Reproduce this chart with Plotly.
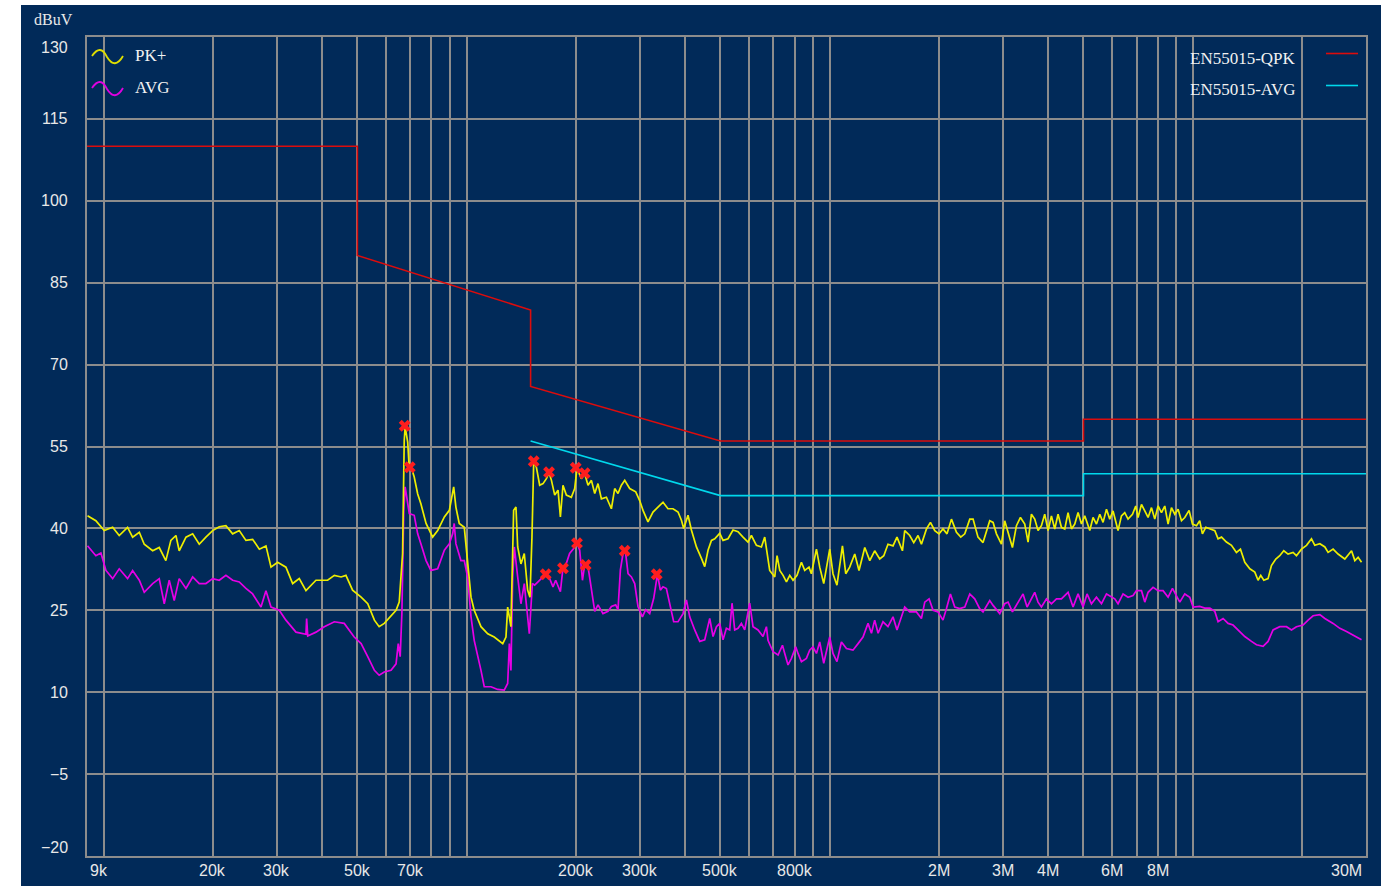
import math
import plotly.graph_objects as go

# ---------------- data (frequency in kHz, level in dBuV) ----------------
pk_freq = [
    9.03, 9.52, 10.04, 10.59, 11.04, 11.64, 12.02, 12.54, 12.94, 13.65, 14.23, 14.84, 15.32, 15.82,
    16.15, 16.86, 17.59, 18.34, 19.13, 19.97, 20.82, 21.72, 22.67, 23.64, 24.66, 25.73, 26.85, 28.00,
    28.91, 30.15, 31.78, 33.17, 34.58, 36.09, 38.45,
    41.4, 43.2, 45.1, 46.5, 48.5, 51.2, 53.4, 55.7, 57.4, 59.3, 61.9, 63.9, 65.2, 65.9, 66.6, 67.3,
    67.7, 68.8, 69.5, 70.6, 71.7, 73.3, 74.8, 77.3, 80.6, 83.2, 86.8, 89.6, 91.1, 92.1, 93.4, 95.4,
    98.5, 100.6, 102.8, 104.9, 109.5, 114.3, 119.1, 125.7, 128.3, 129.7, 132.4, 134.7, 136.7, 138.2,
    141.1, 144.1, 147.2, 149.4, 151.3,
    153.0, 155.6, 158.9, 162.3, 165.8, 168.6, 171.2, 174.8, 178.5, 181.2, 184.2, 188.2, 194.2, 198.4,
    201.3, 207.0, 211.4, 215.9, 220.6, 225.3, 230.0, 235.0, 242.6, 250.4, 255.7, 261.1, 266.8, 272.5,
    281.2, 292.2, 299.6, 306.0, 315.8, 326.0, 336.5, 347.4, 358.5, 370.1, 382.1, 390.4, 396.2, 407.1,
    415.9, 429.4, 443.3, 452.6, 462.2, 472.3, 482.3, 497.7, 508.3, 524.6, 541.6, 559.0, 577.0, 595.5,
    608.5, 628.2, 648.4, 662.2,
    683.4, 705.6, 716.0, 728.5, 743.9, 760.0, 776.0, 792.4, 812.7, 835.7, 853.4, 876.9, 890.2, 919.2,
    938.6, 962.7, 1000, 1021, 1047, 1084, 1107, 1135, 1172, 1204, 1249, 1289, 1330, 1373, 1409, 1447,
    1494, 1532, 1586, 1609, 1661, 1704, 1751, 1789, 1847, 1894, 1947, 2000, 2051, 2104, 2164, 2234,
    2296, 2355, 2431, 2482, 2561, 2644, 2759,
    2818, 2879, 2972, 3034, 3099, 3186, 3268, 3352, 3445, 3518, 3594, 3670, 3748, 3829, 3910, 3994,
    4080, 4167, 4255, 4347, 4440, 4534, 4633, 4731, 4831, 4936, 5040, 5203, 5313, 5429, 5544, 5661,
    5785, 5906, 6031, 6225, 6361, 6496, 6633, 6822, 6966, 7068, 7223, 7376, 7532, 7695, 7858, 8024,
    8200, 8373, 8551, 8736, 8921, 9110, 9309, 9506, 9768,
    9980, 10240, 10450, 10630, 10860, 11140, 11500, 11740, 12000, 12380, 12780, 13190, 13530, 13910,
    14360, 14820, 15130, 15390, 15690, 16120, 16470, 16930, 17360, 17810, 18300, 18890, 19300, 19930,
    20570, 21230, 21680, 22390, 23110, 23590, 24350, 25130, 26230, 27370, 27950, 28540, 29160,
]
pk_level = [
    42.3, 41.4, 39.6, 40.2, 38.7, 40.2, 38.4, 39.3, 37.1, 35.9, 36.5, 34.1, 37.8, 38.7,
    35.9, 38.4, 39.0, 37.1, 38.4, 39.6, 40.3, 40.5, 39.0, 39.6, 37.8, 38.0, 36.2, 36.8,
    32.9, 33.8, 32.9, 29.9, 30.8, 28.6, 30.5,
    30.5, 31.4, 31.1, 31.4, 28.7, 27.4, 26.2, 23.2, 22.0, 22.6, 24.1, 25.0, 26.5, 31.1, 35.4, 56.1,
    58.6, 55.8, 50.9, 50.9, 49.4, 46.3, 44.5, 40.9, 38.4, 39.6, 42.1, 43.3, 46.3, 47.6, 43.9, 40.9,
    40.2, 34.1, 27.4, 25.0, 22.0, 20.7, 20.1, 18.9, 20.1, 25.6, 22.0, 43.3, 43.9, 36.6,
    33.5, 35.4, 28.7, 27.4, 38.4,
    52.3, 51.2, 47.9, 48.2, 49.1, 50.2, 48.8, 46.1, 47.0, 42.1, 47.9, 46.1, 45.7, 47.3,
    51.0, 49.1, 50.0, 47.9, 48.8, 46.4, 48.2, 45.4, 45.7, 43.6, 47.3, 46.4, 47.9, 48.8,
    47.3, 46.7, 45.1, 43.3, 41.2, 43.0, 43.9, 44.8, 43.6, 43.6, 43.0, 41.5, 40.0, 42.4,
    39.7, 36.6, 34.5, 33.0, 36.0, 37.8, 38.1, 39.1, 37.8, 38.1, 39.7, 39.4, 38.4, 37.5,
    38.7, 36.9, 36.6, 38.4,
    32.3, 31.1, 35.0, 32.3, 31.4, 30.2, 31.4, 30.5, 31.4, 33.8, 32.3, 32.9, 31.7, 36.2,
    32.9, 29.9, 36.2, 31.7, 29.6, 36.8, 31.7, 32.9, 35.3, 32.3, 36.5, 34.1, 35.9, 34.4, 35.0, 37.1,
    36.8, 38.4, 35.9, 39.6, 38.7, 37.4, 38.7, 37.1, 39.9, 41.1, 39.6, 39.0, 39.9, 39.0, 41.7, 39.3,
    38.4, 39.0, 41.7, 41.7, 38.4, 37.4, 41.4,
    41.1, 39.0, 37.1, 41.4, 39.3, 36.5, 40.5, 42.0, 40.8, 37.5, 42.6, 41.7, 39.6, 40.5, 42.6, 39.6,
    42.3, 39.9, 42.6, 40.2, 39.9, 42.9, 39.9, 40.8, 42.9, 40.8, 42.3, 39.6, 42.0, 40.8, 42.6, 41.1,
    43.5, 41.7, 43.2, 39.6, 42.3, 42.9, 41.7, 42.6, 44.1, 42.0, 44.4, 43.2, 42.0, 43.8, 41.7, 44.1,
    42.9, 44.1, 40.8, 43.8, 42.6, 43.5, 41.4, 42.0, 43.3,
    40.8, 40.5, 41.4, 39.0, 40.2, 39.9, 39.6, 38.1, 38.4, 37.5, 36.9, 35.6, 36.2, 33.8,
    32.6, 32.0, 30.5, 31.4, 30.5, 30.8, 33.2, 34.4, 35.0, 35.9, 35.3, 35.6, 35.0, 36.2,
    36.9, 38.1, 36.9, 37.2, 36.6, 35.6, 36.2, 35.3, 34.4, 35.9, 34.1, 34.7, 33.8,
]

avg_freq = [
    9.03, 9.52, 9.83, 10.15, 10.59, 11.04, 11.64, 12.02, 12.54, 12.94, 13.65, 14.23, 14.69, 15.16,
    15.65, 16.15, 16.86, 17.59, 18.34, 19.13, 19.97, 20.82, 21.72, 22.67, 23.64, 24.66, 25.73, 27.13,
    28.00, 28.91, 30.46, 31.78, 33.87, 36.09, 36.24, 36.5, 38.45, 40.53,
    43.2, 46.0, 49.0, 51.2, 53.4, 55.7, 57.4, 59.3, 61.9, 63.9, 64.8, 65.6, 66.3, 67.1, 67.7, 68.5,
    69.5, 71.7, 73.3, 74.8, 77.3, 79.7, 83.2, 86.8, 89.6, 91.5, 92.4, 93.4, 96.4, 98.5, 100.6, 102.8,
    104.9, 109.5, 111.8, 116.7, 121.7, 126.9, 129.7, 131.1, 132.4, 133.9, 135.3, 138.2, 141.1, 144.1,
    147.2, 148.8,
    151.7, 153.9, 157.2, 160.6, 165.1, 169.3, 172.9, 175.9, 178.5, 181.2, 184.2, 188.2, 192.1, 197.1,
    201.3, 204.8, 208.4, 211.4, 215.9, 220.6, 225.3, 230.0, 237.4, 245.1, 250.4, 257.3, 261.1, 265.1,
    269.6, 273.7, 278.3, 284.3, 290.3, 296.4, 304.8, 311.2, 319.2, 327.5, 331.7, 335.3, 341.6, 347.4,
    354.9, 362.4, 371.7, 382.1, 394.4, 403.0, 411.5, 424.8, 438.5, 452.6, 467.2, 477.1, 487.6, 497.7,
    508.3, 519.3, 530.3, 538.2, 547.4, 559.0, 571.1, 583.2, 602.0, 614.8, 634.6, 655.1, 669.3,
    676.1, 698.0, 720.7, 741.0, 751.8, 767.6, 784.4, 806.0, 818.0, 835.7, 862.6, 880.6, 899.3, 919.2,
    938.6, 962.7, 1000, 1021, 1047, 1077, 1112, 1159, 1197, 1235, 1275, 1303, 1330, 1359, 1402, 1447,
    1494, 1532, 1576, 1609, 1661, 1733, 1789, 1827, 1878, 1926, 1988, 2051, 2096, 2150, 2210, 2281,
    2355, 2431, 2508, 2589, 2644, 2759, 2818,
    2940, 3034, 3099, 3186, 3302, 3408, 3496, 3594, 3670, 3748, 3829, 3954, 4080, 4212, 4347, 4534,
    4680, 4831, 4986, 5114, 5259, 5429, 5604, 5785, 5906, 6097, 6225, 6426, 6633, 6847, 6997, 7223,
    7376, 7532, 7774, 8024, 8283, 8551, 8792, 9018, 9209, 9506, 9811, 10020,
    10450, 10790, 11140, 11500, 11740, 12120, 12510, 12910, 13470, 13910, 14510, 14980, 15620, 16120,
    16640, 17360, 18120, 18700, 19300, 20130, 20780, 21450, 22390, 23110, 24350, 25410, 26510, 27650,
    29160,
]
avg_level = [
    36.8, 35.0, 35.5, 32.3, 30.8, 32.6, 30.8, 32.3, 30.5, 28.3, 29.9, 30.8, 26.2, 30.5,
    26.8, 30.8, 29.0, 31.1, 29.9, 29.9, 30.8, 30.5, 31.4, 30.5, 30.2, 29.0, 28.0, 25.6,
    28.6, 25.6, 25.0, 23.2, 21.0, 20.6, 23.5, 20.3, 21.0, 22.0,
    22.9, 22.6, 20.1, 18.9, 16.5, 14.0, 13.1, 13.7, 14.0, 15.2, 18.9, 16.5, 24.4, 43.3, 47.6, 45.7,
    42.7, 42.4, 39.0, 37.2, 34.1, 32.3, 32.6, 36.0, 37.2, 39.0, 40.9, 37.2, 34.1, 34.1, 31.1, 23.8,
    19.5, 14.0, 11.0, 11.0, 10.5, 10.4, 11.6, 18.9, 14.0, 31.1, 36.6, 31.1, 26.2, 29.9,
    23.2, 20.7,
    29.9, 29.6, 30.2, 30.8, 31.6, 30.8, 29.3, 30.5, 29.3, 28.4, 32.8, 33.6, 35.4, 36.3,
    37.3, 36.0, 30.5, 33.4, 33.0, 28.7, 24.8, 26.0, 24.4, 24.8, 25.7, 26.0, 25.1, 32.4,
    35.4, 35.8, 31.7, 31.1, 29.9, 25.7, 23.8, 25.1, 24.4, 27.2, 29.9, 31.6, 28.7, 29.3,
    29.0, 26.3, 22.9, 22.9, 24.4, 26.9, 23.8, 21.4, 19.3, 19.6, 23.5, 20.2, 22.0, 22.6,
    19.6, 21.7, 21.4, 26.3, 21.4, 21.7, 22.6, 21.4, 26.3, 22.0, 21.4, 20.2, 22.0,
    19.5, 17.4, 16.8, 18.6, 17.1, 15.0, 16.2, 18.3, 17.1, 15.6, 16.2, 17.7, 18.3, 17.1,
    19.2, 15.3, 20.1, 17.1, 15.6, 19.2, 18.0, 17.7, 18.9, 20.1, 22.6, 20.8, 23.2, 20.8, 22.9, 22.0,
    23.8, 21.4, 23.8, 25.6, 24.7, 24.7, 23.5, 26.5, 27.1, 25.0, 24.7, 23.2, 25.3, 28.0, 25.6, 25.3,
    25.6, 28.0, 27.1, 25.3, 24.7, 26.8, 25.9,
    24.4, 26.2, 26.5, 24.7, 26.5, 28.0, 25.6, 27.1, 28.3, 26.5, 25.6, 27.1, 26.2, 27.1, 27.1, 28.3,
    25.6, 28.0, 25.6, 28.0, 26.2, 27.4, 26.2, 28.0, 27.7, 27.1, 26.2, 28.0, 27.4, 27.7, 28.6, 28.6,
    26.5, 28.3, 29.2, 28.6, 28.6, 27.4, 29.0, 27.7, 26.5, 28.0, 27.4, 25.6,
    25.7, 25.4, 25.4, 24.8, 22.9, 23.5, 22.6, 22.3, 21.1, 20.2, 19.3, 18.7, 18.4, 19.3,
    21.4, 22.0, 22.0, 21.4, 22.0, 22.3, 23.2, 24.0, 24.2, 23.5, 22.6, 21.7, 21.1, 20.5,
    19.6,
]

# limit lines EN55015
qpk_freq = [9, 50, 50, 150, 150, 500, 5000, 5000, 30000]
qpk_level = [110, 110, 90, 80, 66, 56, 56, 60, 60]
avl_freq = [150, 500, 5000, 5000, 30000]
avl_level = [56, 46, 46, 50, 50]

# peak markers
pk_mark_freq = [67.5, 69.7, 153.0, 168.6, 199.7, 211.4]
pk_mark_level = [58.8, 51.2, 52.3, 50.3, 51.1, 50.1]
avg_mark_freq = [165.1, 184.2, 201.3, 212.7, 272.5, 333.8]
avg_mark_level = [31.6, 32.7, 37.3, 33.3, 35.9, 31.6]

# axes
x_label_freq = [9, 20, 30, 50, 70, 200, 300, 500, 800, 2000, 3000, 4000, 6000, 8000, 30000]
x_label_text = ["9k", "20k", "30k", "50k", "70k", "200k", "300k", "500k", "800k",
                "2M", "3M", "4M", "6M", "8M", "30M"]
y_ticks = [130, 115, 100, 85, 70, 55, 40, 25, 10, -5, -20]
y_tick_text = ["130", "115", "100", "85", "70", "55", "40", "25", "10", "−5", "−20"]

# ---------------- style ----------------
W, H = 1399, 886
L, R, T, B = 87, 1366, 37, 856
BG = "#012a59"
GRID = "#8c8c8c"
TXT = "#e8e8e8"
SANS = "Liberation Sans, Arial, sans-serif"
SERIF = "Liberation Serif, Times New Roman, serif"


def px(x):
    return (x - L) / (R - L)


def py(y):
    return (B - y) / (B - T)


grid_vals = [9] + [m * 10 ** e for e in range(1, 5) for m in range(1, 10) if m * 10 ** e <= 30000]

fig = go.Figure()
fig.add_trace(go.Scatter(x=avg_freq, y=avg_level, mode="lines",
                         line=dict(color="#e600e6", width=1.7), showlegend=False))
fig.add_trace(go.Scatter(x=pk_freq, y=pk_level, mode="lines",
                         line=dict(color="#eeee00", width=1.7), showlegend=False))
fig.add_trace(go.Scatter(x=qpk_freq, y=qpk_level, mode="lines",
                         line=dict(color="#dc0c0c", width=1.6), showlegend=False))
fig.add_trace(go.Scatter(x=avl_freq, y=avl_level, mode="lines",
                         line=dict(color="#00d8ec", width=1.6), showlegend=False))
fig.add_trace(go.Scatter(x=pk_mark_freq + avg_mark_freq, y=pk_mark_level + avg_mark_level,
                         mode="markers",
                         marker=dict(symbol="x", size=10.5, color="#ff1e1e", line=dict(width=0)),
                         showlegend=False))

shapes = [
    dict(type="rect", xref="paper", yref="paper", x0=px(21), x1=px(1381), y0=py(5), y1=py(890),
         fillcolor=BG, line=dict(width=0), layer="below"),
    # legend icons (left)
    dict(type="path", xref="paper", yref="paper",
         path=f"M {px(92)},{py(56)} Q {px(100.5)},{py(43.5)} {px(107)},{py(57)} "
              f"Q {px(115)},{py(70)} {px(123)},{py(56)}",
         line=dict(color="#dede00", width=1.8)),
    dict(type="path", xref="paper", yref="paper",
         path=f"M {px(92)},{py(88)} Q {px(100.5)},{py(75.5)} {px(107)},{py(89)} "
              f"Q {px(115)},{py(102)} {px(123)},{py(88)}",
         line=dict(color="#e000e0", width=1.8)),
    # legend lines (right)
    dict(type="line", xref="paper", yref="paper", x0=px(1326), x1=px(1358), y0=py(53.5), y1=py(53.5),
         line=dict(color="#dc0c0c", width=1.6)),
    dict(type="line", xref="paper", yref="paper", x0=px(1326), x1=px(1358), y0=py(85.5), y1=py(85.5),
         line=dict(color="#00d8ec", width=1.6)),
]

annotations = []
# y tick labels
for v, t in zip(y_ticks, y_tick_text):
    shift = 0
    if v == y_ticks[0]:
        shift = -10
    elif v == y_ticks[-1]:
        shift = 9
    annotations.append(dict(x=0, xref="paper", y=v, yref="y", text=t, showarrow=False,
                            xanchor="right", yanchor="middle", xshift=-17, yshift=shift,
                            font=dict(family=SANS, size=16, color=TXT)))
# x tick labels
for i, (f, t) in enumerate(zip(x_label_freq, x_label_text)):
    anchor = "center"
    xs = 0
    if i == 0:
        anchor, xs = "left", 1
    elif i == len(x_label_freq) - 1:
        anchor, xs = "right", -2
    annotations.append(dict(x=math.log10(f), xref="x", y=0, yref="paper", text=t, showarrow=False,
                            xanchor=anchor, yanchor="middle", xshift=xs, yshift=-14,
                            font=dict(family=SANS, size=16, color=TXT)))
# unit label
annotations.append(dict(x=px(32), y=py(19), xref="paper", yref="paper", text="dBuV", showarrow=False,
                        xanchor="left", yanchor="middle", font=dict(family=SERIF, size=16, color=TXT)))
# legend labels
for txt, xx, yy, anc in [("PK+", 133, 55, "left"), ("AVG", 133, 87.5, "left"),
                         ("EN55015-QPK", 1188, 58, "left"), ("EN55015-AVG", 1188, 89.5, "left")]:
    annotations.append(dict(x=px(xx), y=py(yy), xref="paper", yref="paper", text=txt, showarrow=False,
                            xanchor=anc, yanchor="middle",
                            font=dict(family=SERIF, size=17, color="#f2f2f2")))

fig.update_layout(
    width=W, height=H,
    margin=dict(l=L, r=W - R, t=T, b=H - B, pad=0),
    paper_bgcolor="white",
    plot_bgcolor=BG,
    shapes=shapes,
    annotations=annotations,
    showlegend=False,
)
fig.update_xaxes(type="log", range=[math.log10(9), math.log10(30000)], tickvals=grid_vals,
                 showticklabels=False, ticks="", showgrid=True, gridcolor=GRID, gridwidth=1.5,
                 showline=True, linecolor=GRID, linewidth=1.5, mirror=True, zeroline=False)
fig.update_yaxes(range=[-20, 130], tickvals=y_ticks, showticklabels=False, ticks="",
                 showgrid=True, gridcolor=GRID, gridwidth=1.5,
                 showline=True, linecolor=GRID, linewidth=1.5, mirror=True, zeroline=False)

fig.write_html("out.html", config={"displayModeBar": False},
               post_script="document.body.style.margin='0';")
